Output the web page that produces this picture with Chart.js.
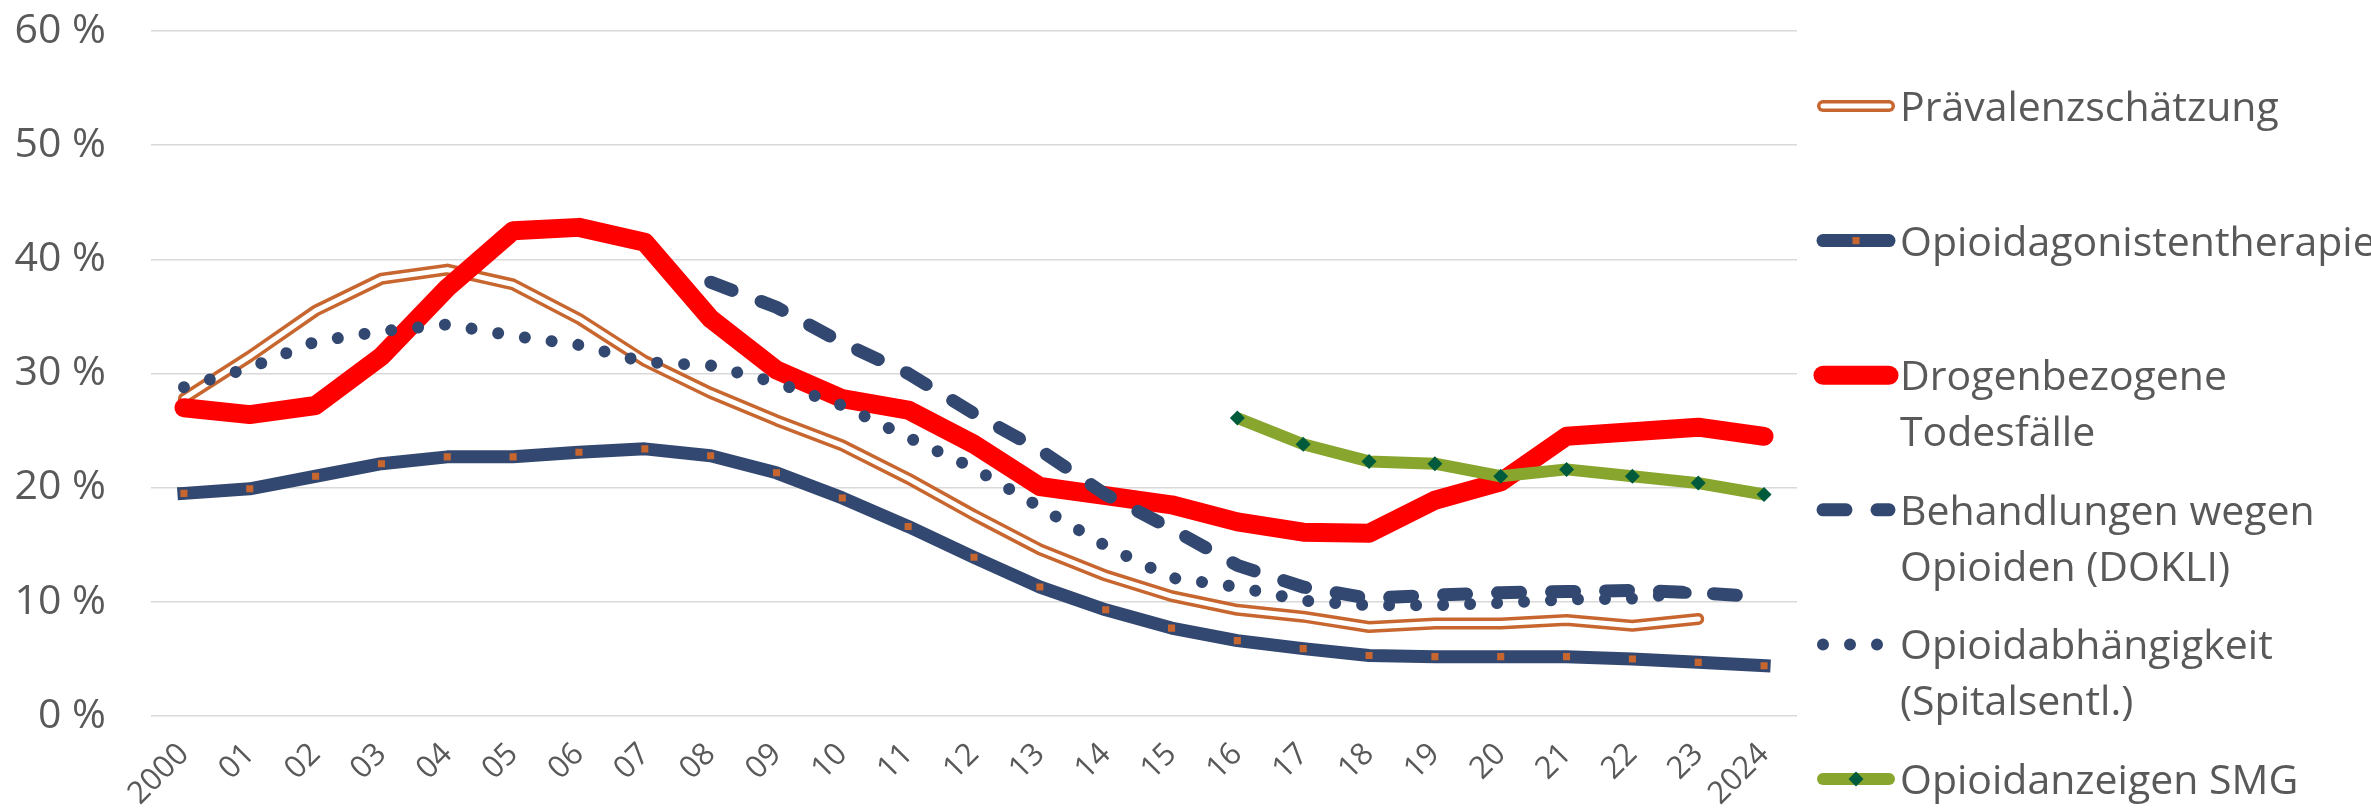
<!DOCTYPE html>
<html lang="de">
<head>
<meta charset="utf-8">
<title>Opioid-Indikatoren 2000–2024</title>
<script src="https://cdn.jsdelivr.net/npm/chart.js@4.4.1/dist/chart.umd.min.js"></script>
<style>
  html, body { margin: 0; padding: 0; background: #fff; }
  #wrap { width: 2371px; height: 812px; position: relative; }
</style>
</head>
<body>
<div id="wrap"><canvas id="chart"></canvas></div>
<script>
// x axis: 2000 and 2024 written out, the years between as two digits
const years = ['2000', '01', '02', '03', '04', '05', '06', '07', '08', '09', '10', '11',
  '12', '13', '14', '15', '16', '17', '18', '19', '20', '21', '22', '23', '2024'];

const yTicks = [0, 10, 20, 30, 40, 50, 60];

// values in percent, null where a source has no data for that year
const prevalence = [27.8, 31.5, 35.5, 38.3, 39.1, 37.8, 34.8, 31.1, 28.3, 25.9, 23.7, 20.8,
  17.6, 14.6, 12.3, 10.5, 9.3, 8.7, 7.8, 8.1, 8.1, 8.4, 7.9, 8.5, null];
const agonistTherapy = [19.5, 19.9, 21.0, 22.1, 22.7, 22.7, 23.1, 23.4, 22.8, 21.3, 19.1, 16.6,
  13.9, 11.3, 9.3, 7.7, 6.6, 5.9, 5.3, 5.2, 5.2, 5.2, 5.0, 4.7, 4.4];
const drugDeaths = [27.0, 26.4, 27.2, 31.5, 37.5, 42.5, 42.8, 41.5, 34.8, 30.3, 27.8, 26.8,
  23.8, 20.1, 19.3, 18.5, 17.0, 16.1, 16.0, 18.9, 20.5, 24.5, 24.9, 25.3, 24.5];
const dokliTreatments = [null, null, null, null, null, null, null, null, 38.0, 35.8, 32.7, 30.0,
  26.5, 23.3, 19.4, 16.4, 13.2, 11.3, 10.3, 10.6, 10.8, 10.9, 11.0, 10.8, 10.4];
const hospitalDischarges = [28.8, 30.5, 32.8, 33.7, 34.3, 33.3, 32.5, 31.0, 30.7, 29.2, 27.2, 24.4,
  21.7, 18.3, 14.9, 12.1, 11.3, 10.1, 9.7, 9.7, 9.9, 10.2, 10.3, 10.9, null];
const smgReports = [null, null, null, null, null, null, null, null, null, null, null, null,
  null, null, null, null, 26.1, 23.8, 22.3, 22.1, 21.0, 21.6, 21.0, 20.4, 19.4];

const seriesNames = [
  'Prävalenzschätzung',
  'Opioidagonistentherapie',
  'Drogenbezogene\nTodesfälle',
  'Behandlungen wegen\nOpioiden (DOKLI)',
  'Opioidabhängigkeit\n(Spitalsentl.)',
  'Opioidanzeigen SMG'
];

const TEXT = '#595959';
const FONT = "'Open Sans', sans-serif";
const ORANGE = '#C8662F';
const NAVY = '#334870';
const RED = '#FF0000';
const GREEN = '#88A62E';
const DARK_GREEN = '#005A3C';

// legend at the right: one row per series, evenly spaced, sample line + wrapped label
// inner: index of the white stroke that makes the double line
const legendRows = [
  { ds: 0, inner: 1 },
  { ds: 2 },
  { ds: 3 },
  { ds: 4 },
  { ds: 5 },
  { ds: 6 }
];

const sideLegend = {
  id: 'sideLegend',
  afterDraw(chart) {
    const ctx = chart.ctx;
    const x0 = chart.chartArea.right + 20;
    const x1 = x0 + 78;
    const tx = x1 + 5;
    legendRows.forEach((row, i) => {
      const y = 106 + i * 134.6;
      const ds = chart.data.datasets[row.ds];
      ctx.save();
      const strokes = [ds];
      if (row.inner != null) strokes.push(chart.data.datasets[row.inner]);
      strokes.forEach(s => {
        ctx.strokeStyle = s.borderColor;
        ctx.lineWidth = s.borderWidth;
        ctx.lineCap = 'round';
        ctx.setLineDash(s.borderDash || []);
        ctx.beginPath();
        ctx.moveTo(x0 + 6, y);
        ctx.lineTo(x1 - 6, y);
        ctx.stroke();
      });
      ctx.setLineDash([]);
      if (ds.pointRadius) {
        ctx.fillStyle = ds.pointBackgroundColor;
        ctx.strokeStyle = ds.pointBackgroundColor;
        Chart.helpers.drawPoint(ctx, {
          pointStyle: ds.pointStyle, radius: ds.pointRadius, rotation: 0, borderWidth: 0
        }, (x0 + x1) / 2, y);
      }
      ctx.fillStyle = TEXT;
      ctx.font = '41px ' + FONT;
      ctx.textAlign = 'left';
      ctx.textBaseline = 'alphabetic';
      seriesNames[i].split('\n').forEach((line, k) => {
        ctx.fillText(line, tx, y + 15 + k * 56);
      });
      ctx.restore();
    });
  }
};

const lineBase = {
  fill: false,
  tension: 0,
  pointRadius: 0,
  pointHoverRadius: 0,
  borderCapStyle: 'round',
  borderJoinStyle: 'round'
};

new Chart(document.getElementById('chart'), {
  type: 'line',
  data: {
    labels: years,
    datasets: [
      { ...lineBase, label: seriesNames[0], data: prevalence,
        borderColor: ORANGE, borderWidth: 12, order: 7 },
      { ...lineBase, label: '', data: prevalence,
        borderColor: '#FFFFFF', borderWidth: 5, order: 6 },
      { ...lineBase, label: seriesNames[1], data: agonistTherapy,
        borderColor: NAVY, borderWidth: 13, borderCapStyle: 'square', order: 5,
        pointStyle: 'rect', pointRadius: 5, pointBackgroundColor: ORANGE,
        pointBorderWidth: 0 },
      { ...lineBase, label: seriesNames[2], data: drugDeaths,
        borderColor: RED, borderWidth: 19, order: 4 },
      { ...lineBase, label: seriesNames[3], data: dokliTreatments,
        borderColor: NAVY, borderWidth: 13, borderDash: [23, 31], order: 3 },
      { ...lineBase, label: seriesNames[4], data: hospitalDischarges,
        borderColor: NAVY, borderWidth: 12, borderDash: [0.001, 27], order: 2 },
      { ...lineBase, label: seriesNames[5], data: smgReports,
        borderColor: GREEN, borderWidth: 12, borderCapStyle: 'butt', order: 1,
        pointStyle: 'rectRot', pointRadius: 7.5, pointBackgroundColor: DARK_GREEN,
        pointBorderWidth: 0 }
    ]
  },
  options: {
    responsive: true,
    maintainAspectRatio: false,
    animation: false,
    events: [],
    layout: { padding: { top: 31, right: 574, bottom: 0, left: 0 } },
    plugins: {
      legend: { display: false },
      tooltip: { enabled: false }
    },
    scales: {
      x: {
        type: 'category',
        offset: true,
        grid: { display: false, drawTicks: false },
        border: { display: false },
        ticks: {
          color: TEXT,
          font: { family: FONT, size: 31 },
          minRotation: 45,
          maxRotation: 45,
          autoSkip: false,
          padding: 20
        },
        afterFit: s => { s.height = 96; }
      },
      y: {
        min: yTicks[0],
        max: yTicks[yTicks.length - 1],
        afterBuildTicks: s => { s.ticks = yTicks.map(v => ({ value: v })); },
        grid: { color: '#D9D9D9', lineWidth: 1.5, drawTicks: false },
        border: { display: false },
        ticks: {
          color: TEXT,
          font: { family: FONT, size: 41 },
          padding: 45,
          callback: v => v + ' %'
        },
        // fixed axis width; the label gap must not push the plot top down
        afterFit: s => { s.width = 151; s.paddingTop = 0; s.paddingBottom = 0; }
      }
    }
  },
  plugins: [sideLegend]
});
</script>
</body>
</html>
